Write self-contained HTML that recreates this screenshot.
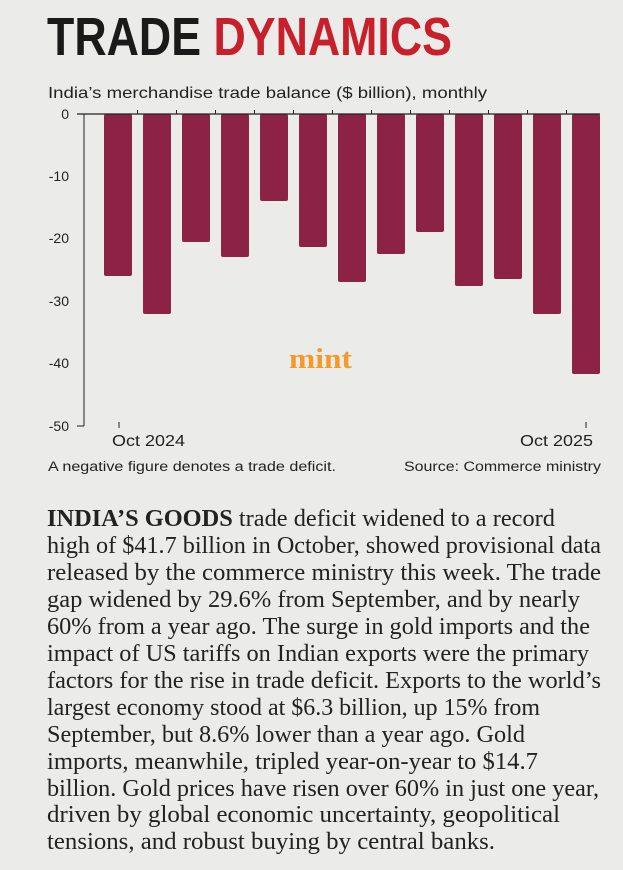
<!DOCTYPE html>
<html><head><meta charset="utf-8"><style>
html,body{margin:0;padding:0;background:#ebebe9;}
svg{display:block;}
</style></head><body>
<svg width="623" height="870" viewBox="0 0 623 870" xmlns="http://www.w3.org/2000/svg">
<rect width="623" height="870" fill="#ebebe9"/>
<text x="47" y="55" font-family="Liberation Sans, sans-serif" font-weight="bold" font-size="54" textLength="405" lengthAdjust="spacingAndGlyphs"><tspan fill="#1a1a1a">TRADE </tspan><tspan fill="#c8202b">DYNAMICS</tspan></text>
<text x="48" y="98" font-family="Liberation Sans, sans-serif" font-size="16" fill="#222" textLength="439" lengthAdjust="spacingAndGlyphs">India’s merchandise trade balance ($ billion), monthly</text>
<g font-family="Liberation Sans, sans-serif" font-size="14" fill="#222" text-anchor="end">
<text x="69" y="119">0</text><text x="69" y="181">-10</text><text x="69" y="243">-20</text><text x="69" y="306">-30</text><text x="69" y="368">-40</text><text x="69" y="431">-50</text>
</g>
<g stroke="#222" stroke-width="1">
<line x1="77" y1="426" x2="84" y2="426"/>
<line x1="84" y1="114" x2="84" y2="426"/>
<line x1="119" y1="422" x2="119" y2="428"/><line x1="586" y1="422" x2="586" y2="428"/>
</g>
<g fill="#8c2346">
<rect x="104" y="114" width="28" height="162" rx="2"/>
<rect x="143" y="114" width="28" height="200" rx="2"/>
<rect x="182" y="114" width="28" height="128" rx="2"/>
<rect x="221" y="114" width="28" height="143" rx="2"/>
<rect x="260" y="114" width="28" height="87" rx="2"/>
<rect x="299" y="114" width="28" height="133" rx="2"/>
<rect x="338" y="114" width="28" height="168" rx="2"/>
<rect x="377" y="114" width="28" height="140" rx="2"/>
<rect x="416" y="114" width="28" height="118" rx="2"/>
<rect x="455" y="114" width="28" height="172" rx="2"/>
<rect x="494" y="114" width="28" height="165" rx="2"/>
<rect x="533" y="114" width="28" height="200" rx="2"/>
<rect x="572" y="114" width="28" height="260" rx="2"/>
</g>
<line x1="77" y1="114" x2="600" y2="114" stroke="#222" stroke-width="1.2"/>
<g stroke="#222" stroke-width="1">
<line x1="137.5" y1="110" x2="137.5" y2="114"/><line x1="176.5" y1="110" x2="176.5" y2="114"/><line x1="215.5" y1="110" x2="215.5" y2="114"/><line x1="254.5" y1="110" x2="254.5" y2="114"/><line x1="293.5" y1="110" x2="293.5" y2="114"/><line x1="332.5" y1="110" x2="332.5" y2="114"/><line x1="371.5" y1="110" x2="371.5" y2="114"/><line x1="410.5" y1="110" x2="410.5" y2="114"/><line x1="449.5" y1="110" x2="449.5" y2="114"/><line x1="488.5" y1="110" x2="488.5" y2="114"/><line x1="527.5" y1="110" x2="527.5" y2="114"/><line x1="566.5" y1="110" x2="566.5" y2="114"/>
</g>
<text x="289" y="368" font-family="Liberation Serif, serif" font-weight="bold" font-size="28" fill="#f39a2b" textLength="63" lengthAdjust="spacingAndGlyphs">mint</text>
<g font-family="Liberation Sans, sans-serif" font-size="16" fill="#222">
<text x="112" y="446" textLength="73" lengthAdjust="spacingAndGlyphs">Oct 2024</text><text x="520" y="446" textLength="73" lengthAdjust="spacingAndGlyphs">Oct 2025</text>
</g>
<g font-family="Liberation Sans, sans-serif" font-size="13.5" fill="#222">
<text x="48" y="471" textLength="288" lengthAdjust="spacingAndGlyphs">A negative figure denotes a trade deficit.</text>
<text x="404" y="471" textLength="197" lengthAdjust="spacingAndGlyphs">Source: Commerce ministry</text>
</g>
<g font-family="Liberation Serif, serif" font-size="24" fill="#222">
<text x="47" y="526" textLength="508" lengthAdjust="spacingAndGlyphs"><tspan font-weight="bold">INDIA’S GOODS</tspan> trade deficit widened to a record</text>
<text x="47" y="553" textLength="554" lengthAdjust="spacingAndGlyphs">high of $41.7 billion in October, showed provisional data</text>
<text x="47" y="580" textLength="554" lengthAdjust="spacingAndGlyphs">released by the commerce ministry this week. The trade</text>
<text x="47" y="607" textLength="533" lengthAdjust="spacingAndGlyphs">gap widened by 29.6% from September, and by nearly</text>
<text x="47" y="634" textLength="543" lengthAdjust="spacingAndGlyphs">60% from a year ago. The surge in gold imports and the</text>
<text x="47" y="661" textLength="542" lengthAdjust="spacingAndGlyphs">impact of US tariffs on Indian exports were the primary</text>
<text x="47" y="688" textLength="554" lengthAdjust="spacingAndGlyphs">factors for the rise in trade deficit. Exports to the world’s</text>
<text x="47" y="715" textLength="493" lengthAdjust="spacingAndGlyphs">largest economy stood at $6.3 billion, up 15% from</text>
<text x="47" y="742" textLength="478" lengthAdjust="spacingAndGlyphs">September, but 8.6% lower than a year ago. Gold</text>
<text x="47" y="769" textLength="491" lengthAdjust="spacingAndGlyphs">imports, meanwhile, tripled year-on-year to $14.7</text>
<text x="47" y="796" textLength="552" lengthAdjust="spacingAndGlyphs">billion. Gold prices have risen over 60% in just one year,</text>
<text x="47" y="822" textLength="513" lengthAdjust="spacingAndGlyphs">driven by global economic uncertainty, geopolitical</text>
<text x="47" y="849" textLength="448" lengthAdjust="spacingAndGlyphs">tensions, and robust buying by central banks.</text>
</g>
</svg>
</body></html>
